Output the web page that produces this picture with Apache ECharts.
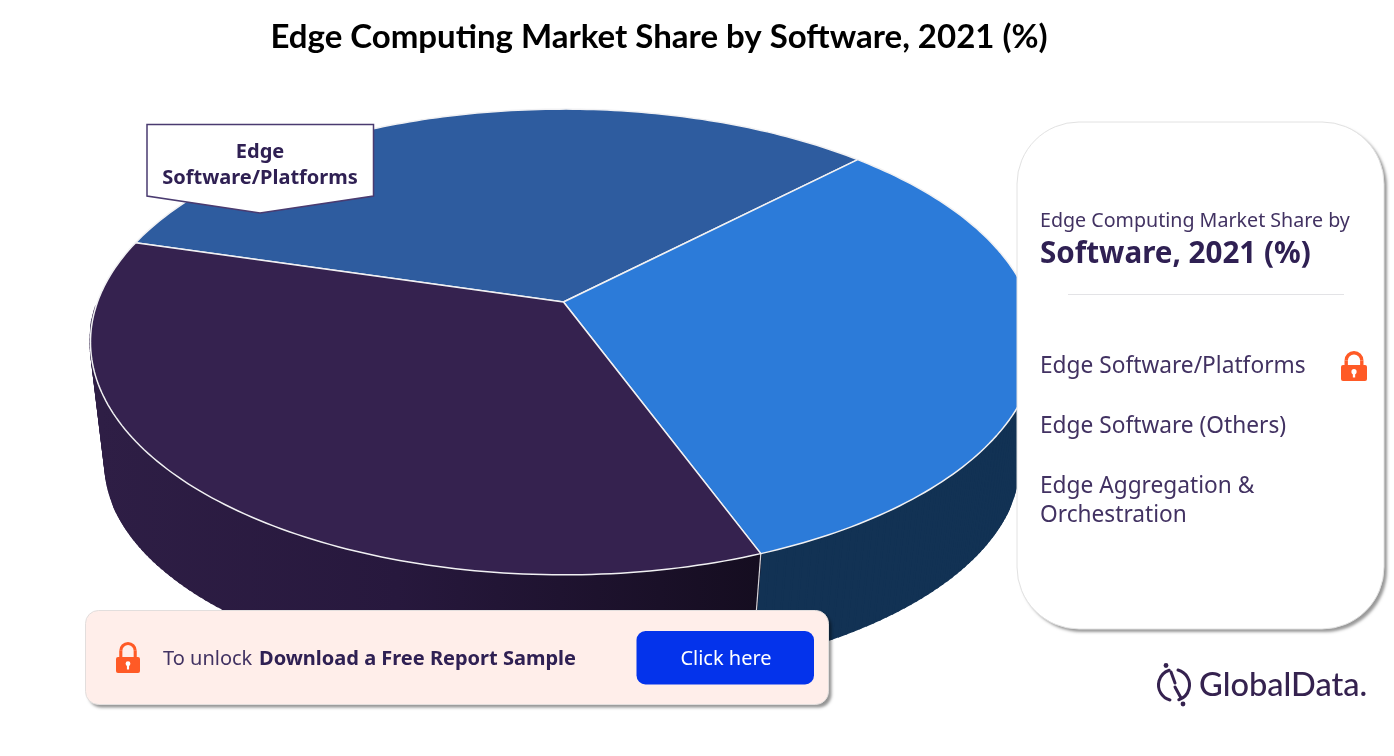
<!DOCTYPE html>
<html><head><meta charset="utf-8">
<style>html,body{margin:0;padding:0;background:#fff}#c{width:1394px;height:756px}</style>
<script src="https://cdn.jsdelivr.net/npm/echarts@6/dist/echarts.min.js"></script>
</head><body><div id="c"></div>
<script>
const categories = ['Edge Software/Platforms', 'Edge Software (Others)', 'Edge Aggregation & Orchestration'];
const shareValues = [33.1, 31.7, 35.2];
const topColors = ['#2E5C9F', '#2C7BD9', '#35224F'];
const chartTitle = 'Edge Computing Market Share by Software, 2021 (%)';

// Projection of the disc (a perspective view)
const START_DEG = 164.1, K = 0.1717;
const TOP = {x: 563.5, y: 302, a: 466, b: 226};
const BOTTOM = {x: 562, y: 426, a: 450, b: 211};
function project(p, deg) {
  const r = deg * Math.PI / 180, u = Math.cos(r), v = Math.sin(r), w = 1 + K * v;
  return [p.x + p.a * u / w, p.y - p.b * v / w];
}
function arcAngles(from, to) {
  const n = Math.max(2, Math.ceil(Math.abs(to - from))), out = [];
  for (let i = 0; i <= n; i++) out.push(from + (to - from) * i / n);
  return out;
}
let cum = 0;
const sliceData = shareValues.map((v, i) => {
  const row = {name: categories[i], value: [cum, cum + v, i]};
  cum += v;
  return row;
});
const toDeg = s => START_DEG - s * 3.6;

const purpleWall = new echarts.graphic.LinearGradient(100, 0, 760, 0, [
  {offset: 0, color: '#2E1E45'}, {offset: 0.45, color: '#27183D'}, {offset: 1, color: '#150D20'}
], true);
const wallColors = ['#1A3A66', '#123254', purpleWall];

const C_DARK = '#2F2053', C_TEXT = '#423262', ORANGE = '#FF5A26';
const PLEX = '"Noto Sans", sans-serif';

function T(text, x, y, size, weight, fill, align, family) {
  return {type: 'text', z: 60, silent: true, style: {
    text, x, y, fontSize: size, fontWeight: weight, fill,
    fontFamily: family || PLEX, textAlign: align || 'left', textVerticalAlign: 'middle'
  }};
}
function card(x, y, width, height, r, fill, stroke, alpha) {
  return [
    {type: 'rect', z: 50, silent: true, shape: {x, y, width, height, r},
      style: {fill, shadowBlur: 3, shadowColor: 'rgba(0,0,0,' + alpha + ')', shadowOffsetX: 3, shadowOffsetY: 3}},
    {type: 'rect', z: 51, silent: true, shape: {x, y, width, height, r},
      style: {fill: 'none', stroke, lineWidth: 1}}
  ];
}
function lock(cx, top, w, h, bodyTop) {
  const r = w * 0.3, lw = w * 0.13, arcY = top + r + lw / 2;
  return [
    {type: 'arc', z: 60, silent: true, shape: {cx, cy: arcY, r, startAngle: Math.PI, endAngle: 2 * Math.PI, clockwise: true},
      style: {stroke: ORANGE, lineWidth: lw, fill: 'none'}},
    {type: 'line', z: 60, silent: true, shape: {x1: cx - r, y1: arcY, x2: cx - r, y2: bodyTop + 2}, style: {stroke: ORANGE, lineWidth: lw}},
    {type: 'line', z: 60, silent: true, shape: {x1: cx + r, y1: arcY, x2: cx + r, y2: bodyTop + 2}, style: {stroke: ORANGE, lineWidth: lw}},
    {type: 'rect', z: 60, silent: true, shape: {x: cx - w / 2, y: bodyTop, width: w, height: top + h - bodyTop, r: 2}, style: {fill: ORANGE}},
    {type: 'circle', z: 61, silent: true, shape: {cx, cy: bodyTop + (top + h - bodyTop) * 0.42, r: w * 0.1}, style: {fill: '#fff'}},
    {type: 'rect', z: 61, silent: true, shape: {x: cx - w * 0.045, y: bodyTop + (top + h - bodyTop) * 0.42, width: w * 0.09, height: (top + h - bodyTop) * 0.36}, style: {fill: '#fff'}}
  ];
}
const logoStroke = {stroke: '#35224F', lineWidth: 3, fill: 'none', lineCap: 'round'};
const graphics = [
  // right card
  ...card(1017, 122, 367, 507, 62, '#fff', '#E2E2E2', 0.4),
  T('Edge Computing Market Share by', 1040, 221, 19.65, 400, C_TEXT),
  T('Software, 2021 (%)', 1040, 255, 29.6, 700, C_DARK),
  {type: 'line', z: 60, silent: true, shape: {x1: 1068, y1: 294.5, x2: 1344, y2: 294.5}, style: {stroke: '#E3E3E6', lineWidth: 1}},
  T(categories[0], 1040, 367, 22.7, 400, C_TEXT),
  T(categories[1], 1040, 427, 22.7, 400, C_TEXT),
  T('Edge Aggregation &', 1040, 487, 22.7, 400, C_TEXT),
  T('Orchestration', 1040, 516, 22.7, 400, C_TEXT),
  ...lock(1354, 351, 26, 30, 365),
  // callout
  {type: 'polygon', z: 50, silent: true, shape: {points: [[147, 124.5], [373.5, 124.5], [373.5, 196], [260, 213], [147, 196]]},
    style: {fill: '#fff', stroke: '#4A3B70', lineWidth: 1.5}},
  T('Edge', 260, 152, 20, 700, C_DARK, 'center'),
  T('Software/Platforms', 260, 178, 20, 700, C_DARK, 'center'),
  // bottom call to action
  ...card(85.5, 610.5, 743, 94, 13, '#FFEEEA', '#E2DEDD', 0.42),
  ...lock(128, 642, 24, 31, 657),
  T('To unlock', 163, 659, 20, 400, C_TEXT),
  T('Download a Free Report Sample', 259, 659, 20, 700, C_DARK),
  {type: 'rect', z: 55, silent: true, shape: {x: 636.5, y: 631, width: 177.5, height: 53.5, r: 9}, style: {fill: '#0433EB'}},
  T('Click here', 726, 659, 20, 400, '#fff', 'center'),
  // logo
  {type: 'arc', z: 60, silent: true, shape: {cx: 1174, cy: 685, r: 15.5, startAngle: -75 * Math.PI / 180, endAngle: 72 * Math.PI / 180, clockwise: true}, style: logoStroke},
  {type: 'arc', z: 60, silent: true, shape: {cx: 1174, cy: 685, r: 15.5, startAngle: 105 * Math.PI / 180, endAngle: 252 * Math.PI / 180, clockwise: true}, style: logoStroke},
  {type: 'line', z: 60, silent: true, shape: {x1: 1171, y1: 672, x2: 1175, y2: 683}, style: logoStroke},
  {type: 'line', z: 60, silent: true, shape: {x1: 1175, y1: 687, x2: 1181, y2: 698}, style: logoStroke},
  {type: 'circle', z: 60, silent: true, shape: {cx: 1166, cy: 665.5, r: 2.4}, style: {fill: '#35224F'}},
  {type: 'circle', z: 60, silent: true, shape: {cx: 1183, cy: 704, r: 2.4}, style: {fill: '#35224F'}},
  T('GlobalData.', 1199, 685, 32.6, 500, '#35224F', 'left', 'Lato, sans-serif')
];

const chart = echarts.init(document.getElementById('c'), null, {renderer: 'canvas'});
chart.setOption({
  backgroundColor: '#fff',
  animation: false,
  title: {text: chartTitle, left: 654, top: 16, textAlign: 'center',
    textStyle: {fontFamily: 'Lato, sans-serif', fontWeight: 700, fontSize: 33, color: '#000'}},
  series: [
    {type: 'custom', coordinateSystem: 'none', silent: true, z: 1, data: sliceData,
      renderItem(params, api) {
        const a = toDeg(api.value(0)), b = toDeg(api.value(1)), i = api.value(2);
        const angles = arcAngles(a, b);
        const children = [];
        for (let j = 0; j < angles.length - 1; j++) {
          // only the near side of the rim is visible
          const mid = (angles[j] + angles[j + 1]) / 2;
          if (Math.sin(mid * Math.PI / 180) > -0.03) continue;
          children.push({type: 'polygon', shape: {points: [
            project(TOP, angles[j]), project(TOP, angles[j + 1]),
            project(BOTTOM, angles[j + 1]), project(BOTTOM, angles[j])]},
            style: {fill: wallColors[i], stroke: wallColors[i], lineWidth: 2}});
        }
        if (Math.sin(a * Math.PI / 180) < 0) {
          const p = project(TOP, a), q = project(BOTTOM, a);
          children.push({type: 'line', z2: 5, shape: {x1: p[0], y1: p[1], x2: q[0], y2: q[1]}, style: {stroke: '#D5D5DA', lineWidth: 1.2}});
        }
        return {type: 'group', children};
      }},
    {type: 'custom', coordinateSystem: 'none', silent: true, z: 2, data: sliceData,
      renderItem(params, api) {
        const a = toDeg(api.value(0)), b = toDeg(api.value(1)), i = api.value(2);
        const pts = [[TOP.x, TOP.y]].concat(arcAngles(a, b).map(d => project(TOP, d)));
        return {type: 'polygon', shape: {points: pts},
          style: {fill: topColors[i], stroke: '#F1F1F3', lineWidth: 1.5, lineJoin: 'round'}};
      }}
  ],
  graphic: {elements: graphics}
});
</script></body></html>
